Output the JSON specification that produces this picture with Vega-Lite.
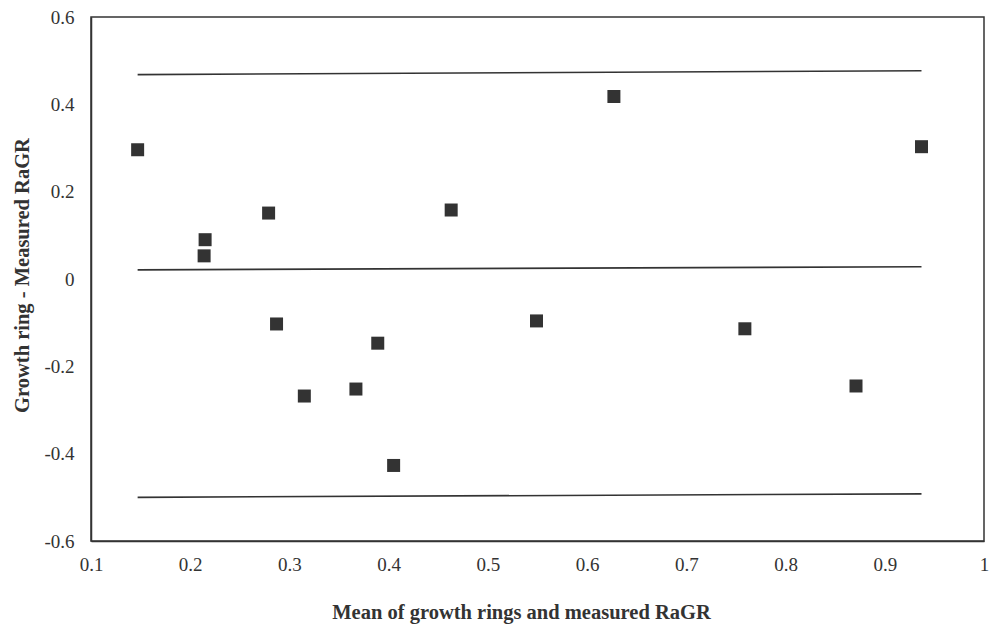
{
  "$schema": "https://vega.github.io/schema/vega-lite/v6.json",
  "width": 893,
  "height": 524,
  "autosize": "none",
  "padding": {"left": 91, "top": 17, "right": 5, "bottom": 86},
  "background": "white",
  "config": {
    "view": {"stroke": "#333333", "strokeWidth": 1.5},
    "font": "Liberation Serif",
    "axis": {
      "labelFont": "Liberation Serif", "labelFontSize": 19, "labelColor": "#333333",
      "labelFlush": false, "labelOverlap": false,
      "titleFont": "Liberation Serif", "titleFontSize": 20.5, "titleFontWeight": "bold", "titleColor": "#333333",
      "ticks": false, "grid": false,
      "domainColor": "#333333", "domainWidth": 1.5
    }
  },
  "datasets": {
    "points": [
      {"mean": 0.147, "diff": 0.296},
      {"mean": 0.215, "diff": 0.090},
      {"mean": 0.214, "diff": 0.053},
      {"mean": 0.279, "diff": 0.151},
      {"mean": 0.287, "diff": -0.103},
      {"mean": 0.315, "diff": -0.268},
      {"mean": 0.367, "diff": -0.252},
      {"mean": 0.389, "diff": -0.147},
      {"mean": 0.405, "diff": -0.427},
      {"mean": 0.463, "diff": 0.158},
      {"mean": 0.549, "diff": -0.096},
      {"mean": 0.627, "diff": 0.418},
      {"mean": 0.759, "diff": -0.114},
      {"mean": 0.871, "diff": -0.245},
      {"mean": 0.937, "diff": 0.303}
    ],
    "limits": [
      {"x1": 0.147, "x2": 0.937, "y1": 0.468, "y2": 0.477},
      {"x1": 0.147, "x2": 0.937, "y1": 0.021, "y2": 0.028},
      {"x1": 0.147, "x2": 0.937, "y1": -0.500, "y2": -0.492}
    ]
  },
  "layer": [
    {
      "data": {"name": "points"},
      "mark": {"type": "square", "color": "#333333", "opacity": 1, "size": 169, "filled": true},
      "encoding": {
        "x": {
          "field": "mean", "type": "quantitative",
          "scale": {"domain": [0.1, 1], "nice": false, "zero": false},
          "axis": {
            "title": "Mean of growth rings and measured RaGR",
            "values": [0.1, 0.2, 0.3, 0.4, 0.5, 0.6, 0.7, 0.8, 0.9, 1.0],
            "labelExpr": "replace(format(datum.value, '.1~f'), '−', '-')",
            "labelPadding": 14,
            "titleX": 430, "titleY": 71, "titleBaseline": "middle"
          }
        },
        "y": {
          "field": "diff", "type": "quantitative",
          "scale": {"domain": [-0.6, 0.6], "nice": false, "zero": false},
          "axis": {
            "title": "Growth ring - Measured RaGR",
            "values": [-0.6, -0.4, -0.2, 0, 0.2, 0.4, 0.6],
            "labelExpr": "replace(format(datum.value, '.1~f'), '−', '-')",
            "labelPadding": 17,
            "titleX": -69, "titleY": 258, "titleBaseline": "middle", "titleAngle": -90
          }
        }
      }
    },
    {
      "data": {"name": "limits"},
      "mark": {"type": "rule", "color": "#333333", "strokeWidth": 1.6},
      "encoding": {
        "x": {"field": "x1", "type": "quantitative"},
        "x2": {"field": "x2"},
        "y": {"field": "y1", "type": "quantitative"},
        "y2": {"field": "y2"}
      }
    }
  ]
}
